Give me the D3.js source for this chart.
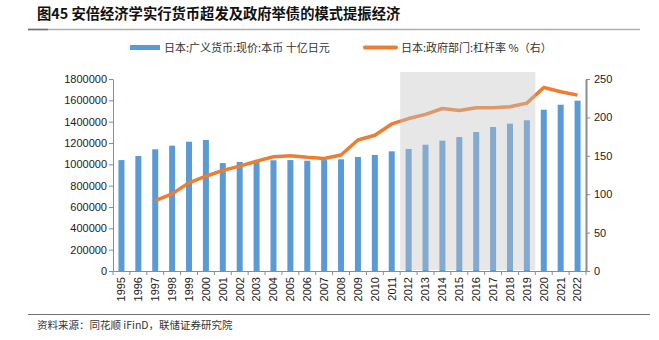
<!DOCTYPE html>
<html lang="zh">
<head>
<meta charset="UTF-8">
<title>安倍经济学</title>
<style>
  body { margin: 0; background: #fff; }
  svg { display: block; font-family: "Liberation Sans", Arial, "Noto Sans CJK SC", sans-serif; }
  .axis path, .axis line { stroke: #8c8c8c; }
  .axis text { fill: #222; font-size: 11px; font-family: "Liberation Sans", Arial, sans-serif; }
  .cjk { font-family: "Noto Sans CJK SC", sans-serif; }
</style>
</head>
<body>
<div id="chart"></div>
<script src="https://d3js.org/d3.v7.min.js"></script>
<script>
const years = ["1995","1996","1997","1998","1999","2000","2001","2002","2003","2004","2005","2006","2007","2008","2009","2010","2011","2012","2013","2014","2015","2016","2017","2018","2019","2020","2021","2022"];
// 日本:广义货币:现价:本币 十亿日元
const money = [1040000,1078000,1141000,1175000,1212000,1228000,1012000,1022000,1025000,1038000,1040000,1034000,1040000,1047000,1069000,1088000,1122000,1144000,1184000,1222000,1256000,1303000,1350000,1381000,1413000,1512000,1559000,1597000];
// 日本:政府部门:杠杆率 %（右），1997 起
const leverage = [null,null,91.6,100.4,114.8,123.4,131,136.5,143,148.8,150,148,146.6,151,170.6,176.7,191.5,198.5,204,211.6,209,212.5,212.5,213.8,218.6,239,233.4,229];
const leftTicks = [0,200000,400000,600000,800000,1000000,1200000,1400000,1600000,1800000];
const rightTicks = [0,50,100,150,200,250];
const shadeFrom = "2012", shadeTo = "2019";

const W = 659, H = 340;
const m = { top: 79, right: 73, bottom: 69, left: 113 };
const iw = W - m.left - m.right, ih = H - m.top - m.bottom;

const svg = d3.select("#chart").append("svg").attr("width", W).attr("height", H);

// title
svg.append("text").attr("class", "cjk").attr("x", 37).attr("y", 19)
  .attr("font-size", 14.3).attr("font-weight", "bold").attr("fill", "#111")
  .text("图45 安倍经济学实行货币超发及政府举债的模式提振经济");
svg.append("line").attr("x1", 28).attr("x2", 640).attr("y1", 29.5).attr("y2", 29.5)
  .attr("stroke", "#b0b0b0").attr("stroke-width", 1.5);
svg.append("line").attr("x1", 28).attr("x2", 48).attr("y1", 29.5).attr("y2", 29.5)
  .attr("stroke", "#707070").attr("stroke-width", 1.5);

// legend
const lg = svg.append("g").attr("class", "cjk").attr("font-size", 11).attr("fill", "#333");
lg.append("rect").attr("x", 130).attr("y", 45).attr("width", 30).attr("height", 5).attr("fill", "#5b9bd5");
lg.append("text").attr("x", 164).attr("y", 51.5).text("日本:广义货币:现价:本币 十亿日元");
lg.append("line").attr("x1", 365).attr("x2", 396).attr("y1", 47.5).attr("y2", 47.5)
  .attr("stroke", "#ed7d31").attr("stroke-width", 4).attr("stroke-linecap", "round");
lg.append("text").attr("x", 401).attr("y", 51.5).text("日本:政府部门:杠杆率 %（右）");

const g = svg.append("g").attr("transform", `translate(${m.left},${m.top})`);

const x = d3.scaleBand().domain(years).range([0, iw]);
const yL = d3.scaleLinear().domain([0, 1800000]).range([ih, 0]);
const yR = d3.scaleLinear().domain([0, 250]).range([ih, 0]);

// bars
const bw = 6;
g.selectAll(".bar").data(years).enter().append("rect")
  .attr("x", d => x(d) + x.bandwidth() / 2 - bw / 2)
  .attr("y", (d, i) => yL(money[i]))
  .attr("width", bw)
  .attr("height", (d, i) => ih - yL(money[i]))
  .attr("fill", "#5b9bd5");

// line
const line = d3.line()
  .defined(d => d.v != null)
  .x(d => x(d.year) + x.bandwidth() / 2)
  .y(d => yR(d.v));
g.append("path")
  .datum(years.map((year, i) => ({ year, v: leverage[i] })))
  .attr("d", line).attr("fill", "none")
  .attr("stroke", "#ed7d31").attr("stroke-width", 3.5).attr("stroke-linejoin", "round");

// shaded period
g.append("rect")
  .attr("x", x(shadeFrom)).attr("y", -7)
  .attr("width", x(shadeTo) + x.bandwidth() - x(shadeFrom))
  .attr("height", ih + 6)
  .attr("fill", "#c4c4c4").attr("opacity", 0.4);

// axes
const ax = g.append("g").attr("class", "axis").attr("transform", `translate(0,${ih})`)
  .call(d3.axisBottom(x).tickSize(0).tickSizeOuter(0));
ax.selectAll("text").attr("transform", "rotate(-90)")
  .attr("x", -6).attr("y", 0).attr("dy", "0.35em").style("text-anchor", "end");
ax.selectAll(".bnd").data(years.concat(["end"])).enter().append("line")
  .attr("x1", (d, i) => i * x.step()).attr("x2", (d, i) => i * x.step())
  .attr("y1", 0).attr("y2", 4).attr("stroke", "#8c8c8c");

g.append("g").attr("class", "axis")
  .call(d3.axisLeft(yL).tickValues(leftTicks).tickFormat(d3.format("d")).tickSize(4).tickSizeOuter(0))
  .call(a => a.selectAll("text").attr("x", -6));

g.append("g").attr("class", "axis").attr("transform", `translate(${iw},0)`)
  .call(d3.axisRight(yR).tickValues(rightTicks).tickSize(4).tickSizeOuter(0))
  .call(a => a.select(".domain").attr("stroke-width", 2))
  .call(a => a.selectAll("text").attr("x", 8));

// footer
svg.append("line").attr("x1", 28).attr("x2", 650).attr("y1", 314.5).attr("y2", 314.5)
  .attr("stroke", "#707070").attr("stroke-width", 1);
svg.append("text").attr("class", "cjk").attr("x", 37).attr("y", 329)
  .attr("font-size", 10.5).attr("fill", "#333")
  .text("资料来源：同花顺 iFinD，联储证券研究院");
</script>
</body>
</html>
